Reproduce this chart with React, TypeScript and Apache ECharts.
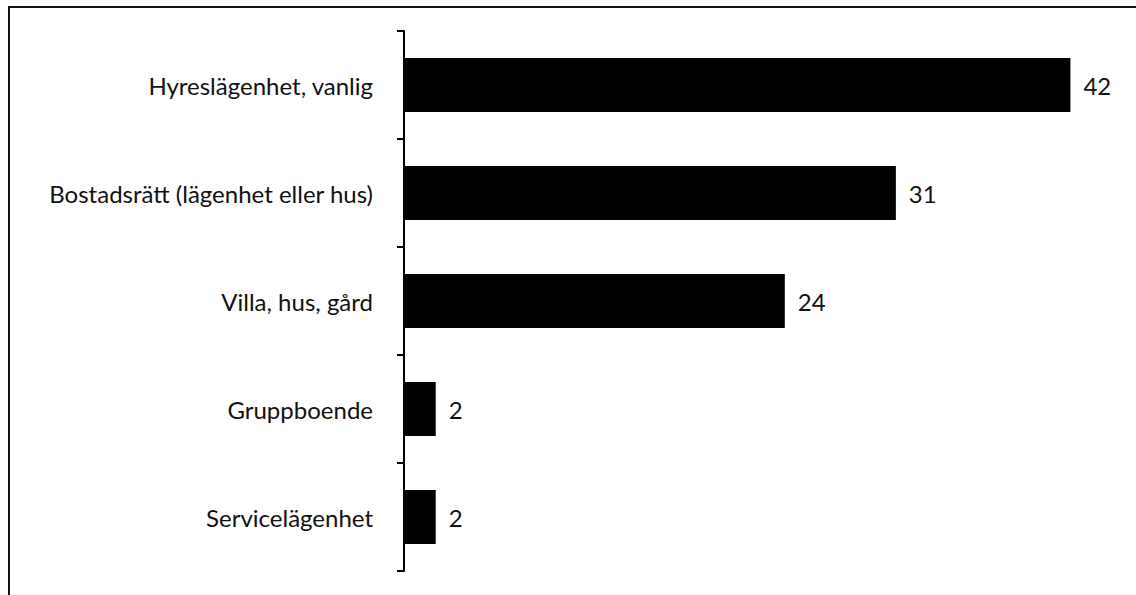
import React, { useEffect, useRef } from "react";
import * as echarts from "echarts";

const categories = [
  "Hyreslägenhet, vanlig",
  "Bostadsrätt (lägenhet eller hus)",
  "Villa, hus, gård",
  "Gruppboende",
  "Servicelägenhet",
];
const values = [42, 31, 24, 2, 2];

export default function App() {
  const ref = useRef<HTMLDivElement>(null);
  useEffect(() => {
    if (!ref.current) return;
    const chart = echarts.init(ref.current, null, { renderer: "svg" });
    const font = "Lato, 'Open Sans', sans-serif";
    chart.setOption({
      animation: false,
      backgroundColor: "#ffffff",
      grid: { left: 404, top: 31, bottom: 24, right: 18, containLabel: false },
      xAxis: {
        type: "value",
        min: 0,
        max: 45,
        show: false,
      },
      yAxis: {
        type: "category",
        data: categories,
        inverse: true,
        axisLine: { show: true, lineStyle: { color: "#000", width: 2 } },
        axisTick: { show: true, inside: false, length: 7, lineStyle: { color: "#000", width: 2 } },
        axisLabel: {
          margin: 31,
          color: "#111",
          fontSize: 24,
          fontFamily: font,
        },
        splitLine: { show: false },
      },
      series: [
        {
          type: "bar",
          data: values,
          barCategoryGap: "50%",
          itemStyle: { color: "#000" },
          label: {
            show: true,
            position: "right",
            distance: 13,
            color: "#111",
            fontSize: 24,
            fontFamily: font,
          },
        },
      ],
      graphic: [
        { type: "line", shape: { x1: 8, y1: 7, x2: 1136, y2: 7 }, style: { stroke: "#111", lineWidth: 2 } },
        { type: "line", shape: { x1: 9, y1: 6, x2: 9, y2: 595 }, style: { stroke: "#111", lineWidth: 2 } },
      ],
    });
    return () => chart.dispose();
  }, []);
  return (
    <div
      ref={ref}
      style={{ position: "absolute", left: 0, top: 0, width: 1136, height: 595 }}
    />
  );
}
